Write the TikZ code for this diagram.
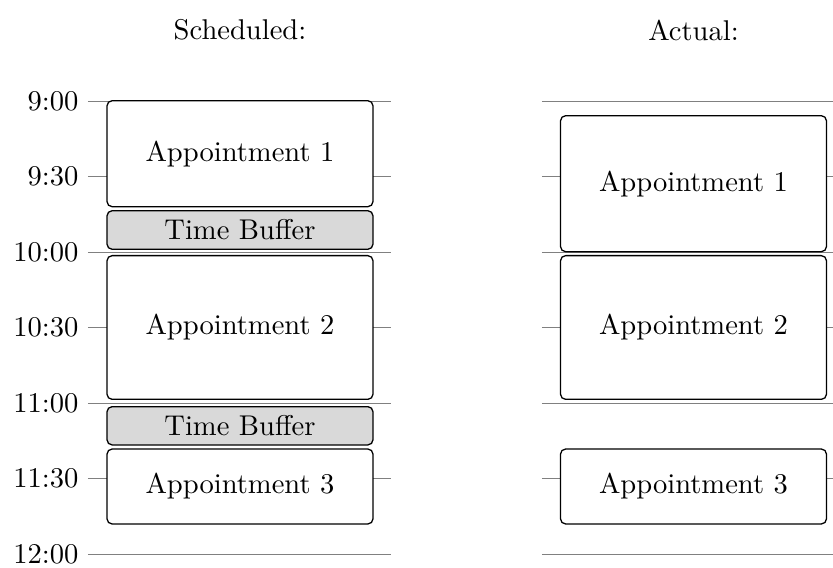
\documentclass[tikz,border=0pt]{standalone}
\begin{document}
\begin{tikzpicture}[x=0.35pt,y=-0.35pt,
  tl/.style={draw=gray,line width=0.4pt},
  lbl/.style={anchor=east,inner sep=0pt},
  appt/.style={draw=black,fill=white,rounded corners=1.8pt,minimum width=93.1pt,inner sep=1pt,line width=0.45pt},
  buf/.style={appt,fill=gray!30},
  title/.style={inner sep=0pt}]
\useasboundingbox (0,0) rectangle (833,568);
% titles
\node[title] (ts) at (240,30) {Scheduled:};
\node[title] (ta) at (693.5,30) {Actual:};
% time lines and labels
\foreach \t/\lab [count=\i from 0] in {0/9:00,1/9:30,2/10:00,3/10:30,4/11:00,5/11:30,6/12:00}{
  \pgfmathsetmacro{\yy}{101.2+75.5*\t}
  \coordinate (la\i) at (88,\yy);
  \coordinate (lb\i) at (391,\yy);
  \coordinate (ra\i) at (542,\yy);
  \coordinate (rb\i) at (833,\yy);
  \draw[tl] (la\i) -- (lb\i);
  \draw[tl] (ra\i) -- (rb\i);
  \node[lbl] (lab\i) at (79,\yy) {\lab};
}
% scheduled
\node[appt,minimum height=37.1pt] (s1) at (240,153.7) {Appointment 1};
\node[buf,minimum height=13.5pt] (b1) at (240,230) {Time Buffer};
\node[appt,minimum height=50.3pt] (s2) at (240,327.5) {Appointment 2};
\node[buf,minimum height=13.4pt] (b2) at (240,425.8) {Time Buffer};
\node[appt,minimum height=26.25pt] (s3) at (240,486.5) {Appointment 3};
% actual
\node[appt,minimum height=47.6pt] (a1) at (693.5,183.7) {Appointment 1};
\node[appt,minimum height=50.3pt] (a2) at (693.5,327.5) {Appointment 2};
\node[appt,minimum height=26.25pt] (a3) at (693.5,486.5) {Appointment 3};
\end{tikzpicture}
\end{document}
